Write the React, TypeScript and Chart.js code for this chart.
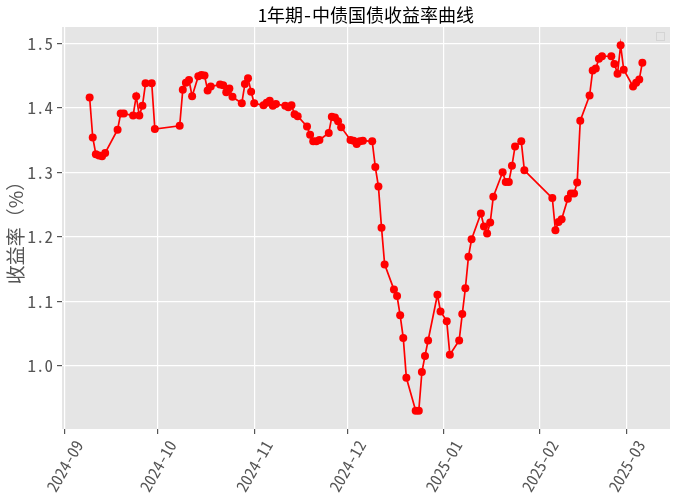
import { useEffect, useRef } from 'react'
import { Chart, registerables } from 'chart.js'

Chart.register(...registerables)

const dates = [
  '2024-09-09', '2024-09-10', '2024-09-11', '2024-09-12', '2024-09-13', '2024-09-14',
  '2024-09-18', '2024-09-19', '2024-09-20', '2024-09-23', '2024-09-24', '2024-09-25',
  '2024-09-26', '2024-09-27', '2024-09-29', '2024-09-30',
  '2024-10-08', '2024-10-09', '2024-10-10', '2024-10-11', '2024-10-12', '2024-10-14',
  '2024-10-15', '2024-10-16', '2024-10-17', '2024-10-18', '2024-10-21', '2024-10-22',
  '2024-10-23', '2024-10-24', '2024-10-25', '2024-10-28', '2024-10-29', '2024-10-30',
  '2024-10-31',
  '2024-11-01', '2024-11-04', '2024-11-05', '2024-11-06', '2024-11-07', '2024-11-08',
  '2024-11-11', '2024-11-12', '2024-11-13', '2024-11-14', '2024-11-15', '2024-11-18',
  '2024-11-19', '2024-11-20', '2024-11-21', '2024-11-22', '2024-11-25', '2024-11-26',
  '2024-11-27', '2024-11-28', '2024-11-29',
  '2024-12-02', '2024-12-03', '2024-12-04', '2024-12-05', '2024-12-06', '2024-12-09',
  '2024-12-10', '2024-12-11', '2024-12-12', '2024-12-13', '2024-12-16', '2024-12-17',
  '2024-12-18', '2024-12-19', '2024-12-20', '2024-12-23', '2024-12-24', '2024-12-25',
  '2024-12-26', '2024-12-27', '2024-12-30', '2024-12-31',
  '2025-01-02', '2025-01-03', '2025-01-06', '2025-01-07', '2025-01-08', '2025-01-09',
  '2025-01-10', '2025-01-13', '2025-01-14', '2025-01-15', '2025-01-16', '2025-01-17',
  '2025-01-20', '2025-01-21', '2025-01-22', '2025-01-23', '2025-01-24', '2025-01-26',
  '2025-01-27',
  '2025-02-05', '2025-02-06', '2025-02-07', '2025-02-08', '2025-02-10', '2025-02-11',
  '2025-02-12', '2025-02-13', '2025-02-14', '2025-02-17', '2025-02-18', '2025-02-19',
  '2025-02-20', '2025-02-21', '2025-02-24', '2025-02-25', '2025-02-26', '2025-02-27',
  '2025-02-28',
  '2025-03-03', '2025-03-04', '2025-03-05', '2025-03-06',
]

const yields = [
  1.416, 1.354, 1.328, 1.326, 1.325, 1.330,
  1.366, 1.391, 1.391, 1.388, 1.418, 1.388,
  1.403, 1.438, 1.438, 1.367,
  1.372, 1.428, 1.439, 1.443, 1.418, 1.449,
  1.451, 1.450, 1.427, 1.433, 1.436, 1.435,
  1.424, 1.430, 1.417, 1.407, 1.437, 1.446,
  1.425,
  1.407, 1.404, 1.408, 1.411, 1.403, 1.406,
  1.403, 1.401, 1.404, 1.390, 1.387, 1.371,
  1.358, 1.348, 1.348, 1.350, 1.361, 1.386,
  1.385, 1.379, 1.370,
  1.350, 1.349, 1.344, 1.348, 1.349, 1.348,
  1.308, 1.278, 1.214, 1.157, 1.118, 1.108,
  1.078, 1.043, 0.981, 0.930, 0.930, 0.990,
  1.015, 1.039, 1.110, 1.084,
  1.069, 1.017, 1.039, 1.080, 1.120, 1.169,
  1.196, 1.236, 1.216, 1.205, 1.222, 1.262,
  1.300, 1.285, 1.285, 1.310, 1.340, 1.348,
  1.303,
  1.260, 1.210, 1.223, 1.227, 1.259, 1.267,
  1.267, 1.284, 1.380, 1.419, 1.458, 1.461,
  1.476, 1.480, 1.480, 1.468, 1.453, 1.497,
  1.459,
  1.433, 1.439, 1.444, 1.470,
]

const monthTicks = ['2024-09-01', '2024-10-01', '2024-11-01', '2024-12-01', '2025-01-01', '2025-02-01', '2025-03-01']
const monthLabels = ['2024-09', '2024-10', '2024-11', '2024-12', '2025-01', '2025-02', '2025-03']
const yTicks = [1.0, 1.1, 1.2, 1.3, 1.4, 1.5]

// days since 2024-09-01, used as the linear x value
const toDay = (s: string) => {
  const [y, m, d] = s.split('-').map(Number)
  return (Date.UTC(y, m - 1, d) - Date.UTC(2024, 8, 1)) / 86400000
}

const FONT = "'Noto Sans Mono CJK SC', 'Noto Sans CJK SC', sans-serif"
const CJK = "'Noto Sans CJK SC', sans-serif"

const panelBg = {
  id: 'panelBg',
  beforeDraw(chart: Chart) {
    const { ctx, chartArea: a } = chart
    ctx.save()
    ctx.fillStyle = '#E5E5E5'
    ctx.fillRect(a.left, a.top, a.right - a.left, a.bottom - a.top)
    ctx.restore()
  },
  afterDraw(chart: Chart) {
    // empty legend frame in the top right corner
    const { ctx, chartArea: a } = chart
    ctx.save()
    ctx.strokeStyle = '#D4D4D4'
    ctx.lineWidth = 1
    ctx.strokeRect(a.right - 13.5, a.top + 5.5, 8, 8)
    ctx.restore()
  },
}

export default function App() {
  const canvasRef = useRef<HTMLCanvasElement>(null)
  const chartRef = useRef<Chart | null>(null)

  useEffect(() => {
    document.body.style.margin = '0'
    if (!canvasRef.current) return
    if (chartRef.current) chartRef.current.destroy()

    const xs = dates.map(toDay)
    const xSpan = xs[xs.length - 1] - xs[0]
    const yMin = Math.min(...yields)
    const yMax = Math.max(...yields)
    const ySpan = yMax - yMin

    chartRef.current = new Chart(canvasRef.current, {
      type: 'line',
      data: {
        datasets: [
          {
            data: xs.map((x, i) => ({ x, y: yields[i] })),
            borderColor: '#FF0000',
            backgroundColor: '#FF0000',
            borderWidth: 1.7,
            pointRadius: 4,
            pointBorderWidth: 0,
            pointBackgroundColor: '#FF0000',
            tension: 0,
          },
        ],
      },
      options: {
        animation: false,
        responsive: false,
        events: [],
        layout: { padding: { right: 7, top: 0, bottom: 0, left: 0 } },
        plugins: {
          legend: { display: false },
          tooltip: { enabled: false },
          title: {
            display: true,
            fullSize: false,
            text: '1年期-中债国债收益率曲线',
            color: '#000',
            font: { family: FONT, size: 18, weight: 'normal', lineHeight: 1.2 },
            padding: { top: 4, bottom: 1.4 },
          },
        },
        scales: {
          x: {
            type: 'linear',
            min: xs[0] - 0.05 * xSpan,
            max: xs[xs.length - 1] + 0.05 * xSpan,
            afterBuildTicks: (scale) => {
              scale.ticks = monthTicks.map((t) => ({ value: toDay(t) }))
            },
            afterFit: (scale) => {
              scale.height = 71
            },
            border: { display: false },
            grid: { color: '#FFFFFF', lineWidth: 1.2, tickColor: '#555555', tickLength: 5 },
            ticks: {
              autoSkip: false,
              minRotation: 60,
              maxRotation: 60,
              padding: 3,
              labelOffset: 14,
              color: '#555555',
              font: { family: FONT, size: 16 },
              callback: (v) => monthLabels[monthTicks.findIndex((t) => toDay(t) === v)] ?? '',
            },
          },
          y: {
            type: 'linear',
            min: yMin - 0.05 * ySpan,
            max: yMax + 0.05 * ySpan,
            afterBuildTicks: (scale) => {
              scale.ticks = yTicks.map((v) => ({ value: v }))
            },
            afterFit: (scale) => {
              scale.width = 62
            },
            border: { display: false },
            grid: { color: '#FFFFFF', lineWidth: 1.2, tickColor: '#555555', tickLength: 5 },
            title: {
              display: true,
              text: '收益率（%）',
              color: '#555555',
              font: { family: CJK, size: 19 },
              padding: { top: 4, bottom: 2 },
            },
            ticks: {
              padding: 4,
              color: '#555555',
              font: { family: FONT, size: 17 },
              callback: (v) => Number(v).toFixed(1),
            },
          },
        },
      },
      plugins: [panelBg],
    })

    return () => {
      chartRef.current?.destroy()
      chartRef.current = null
    }
  }, [])

  return (
    <div style={{ width: 677, height: 500, background: '#fff' }}>
      <canvas ref={canvasRef} width={677} height={500} style={{ width: 677, height: 500 }} />
    </div>
  )
}
